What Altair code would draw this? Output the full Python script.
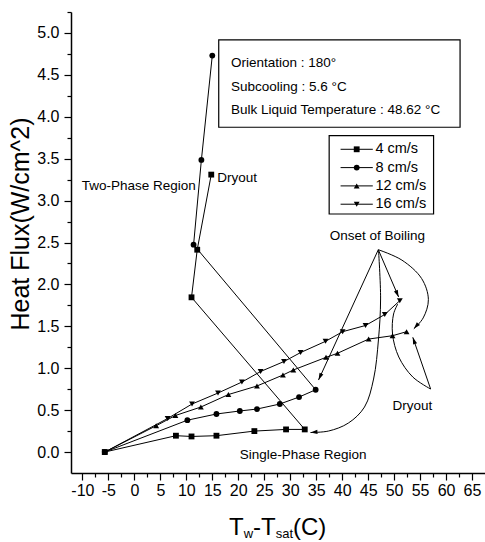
import math
import altair as alt
import pandas as pd

# ---------------- data ----------------
series_names = ["4 cm/s", "8 cm/s", "12 cm/s", "16 cm/s"]
series_shapes = ["square", "circle", "triangle-up", "triangle-down"]

x_4 = [-5.7, 8.0, 11.0, 15.8, 23.1, 29.2, 32.8, 11.0, 12.1, 14.8]
y_4 = [0.0, 0.195, 0.186, 0.195, 0.25, 0.27, 0.27, 1.846, 2.414, 3.31]
x_8 = [-5.7, 10.2, 15.8, 20.3, 23.6, 28.0, 31.7, 34.9, 11.4, 12.9, 15.0]
y_8 = [0.0, 0.38, 0.454, 0.49, 0.513, 0.573, 0.656, 0.743, 2.474, 3.485, 4.73]
x_12 = [-5.7, 4.2, 7.9, 12.8, 18.1, 23.6, 28.6, 30.6, 36.9, 39.1, 45.1, 49.7, 52.4]
y_12 = [0.0, 0.314, 0.436, 0.537, 0.686, 0.788, 0.919, 0.979, 1.13, 1.178, 1.348, 1.388, 1.436]
x_16 = [-5.7, 6.4, 11.1, 16.1, 20.7, 24.3, 28.8, 32.0, 36.8, 40.1, 44.5, 48.2, 51.1]
y_16 = [0.0, 0.40, 0.573, 0.704, 0.835, 0.961, 1.08, 1.187, 1.321, 1.436, 1.51, 1.641, 1.806]

x_major_ticks = list(range(-10, 66, 5))
x_minor_ticks = [v + 2.5 for v in range(-10, 65, 5)]
y_major_ticks = [i * 0.5 for i in range(0, 11)]
y_minor_ticks = [i * 0.5 + 0.25 for i in range(0, 11)]

info_lines = ["Orientation : 180°", "Subcooling : 5.6 °C", "Bulk Liquid Temperature : 48.62 °C"]
info_y = [4.638, 4.352, 4.081]
info_x = 18.6
info_box_x = [16.24, 62.7]
info_box_y = [3.875, 4.917]

label_text = ["Two-Phase Region", "Dryout", "Onset of Boiling", "Dryout", "Single-Phase Region"]
label_x = [0.83, 19.8, 46.8, 53.5, 32.5]
label_y = [3.177, 3.266, 2.581, 0.553, -0.036]

# legend key placement (data coordinates)
legend_box_x = [37.5, 57.6]
legend_box_y = [2.840, 3.775]
legend_line_x = [39.7, 45.9]
legend_mark_x = 42.8
legend_text_x = 46.4
legend_top_y = 3.612
legend_step_y = 0.2184

# annotation arrows (data coordinates)
arrow_paths = {
    "onset_8": ([46.96, 35.45], [2.414, 0.859], True),
    "onset_16": ([46.96, 50.87], [2.414, 1.85], True),
    "onset_12": ([46.96, 51.5, 55.3, 56.6, 55.6, 53.8], [2.414, 2.29, 2.07, 1.82, 1.60, 1.47], True),
    "onset_4": ([47.0, 47.4, 47.0, 46.05, 44.3, 41.2, 37.4, 33.9],
                [2.41, 1.826, 1.348, 0.871, 0.537, 0.346, 0.251, 0.233], True),
    "dry_12": ([57.03, 53.6], [0.752, 1.369], True),
    "dry_16": ([57.03, 53.6, 50.9, 49.7, 49.9, 50.7], [0.752, 0.895, 1.134, 1.408, 1.647, 1.766], False),
}

y_title = "Heat Flux(W/cm^2)"

# ---------------- layout ----------------
FONT = "Liberation Sans"
X_DOMAIN = [-12.2, 67.5]
Y_DOMAIN = [-0.25, 5.25]
PLOT_W = 414
PLOT_H = 461
PAD = {"left": 71, "top": 12, "right": 0, "bottom": 69}
KX = PLOT_W / (X_DOMAIN[1] - X_DOMAIN[0])
KY = PLOT_H / (Y_DOMAIN[1] - Y_DOMAIN[0])

xscale = alt.Scale(domain=X_DOMAIN, nice=False, zero=False)
yscale = alt.Scale(domain=Y_DOMAIN, nice=False, zero=False)
shape_scale = alt.Scale(domain=series_names, range=series_shapes)


def X(field="x"):
    return alt.X(f"{field}:Q", scale=xscale, axis=None)


def Y(field="y"):
    return alt.Y(f"{field}:Q", scale=yscale, axis=None)


rows = []
for name, xs, ys in zip(series_names, [x_4, x_8, x_12, x_16], [y_4, y_8, y_12, y_16]):
    for i, (xv, yv) in enumerate(zip(xs, ys)):
        rows.append({"series": name, "order": i, "x": xv, "y": yv})
df = pd.DataFrame(rows)

ax_x_major = alt.Axis(orient="bottom", values=x_major_ticks, tickSize=7, tickWidth=1.2,
                      labelFontSize=16, labelPadding=2, labelExpr="'' + datum.value",
                      domainWidth=1.5, title=None, grid=False, labelFlush=False,
                      labelOverlap=False)
ax_x_minor = alt.Axis(orient="bottom", values=x_minor_ticks, tickSize=4, tickWidth=1.2,
                      labels=False, domain=False, title=None, grid=False)
ax_y_major = alt.Axis(orient="left", values=y_major_ticks, format=".1f", tickSize=7,
                      tickWidth=1.2, labelFontSize=16, labelPadding=5, domainWidth=1.5,
                      title=None, grid=False, labelOverlap=False, labelFlush=False)
ax_y_minor = alt.Axis(orient="left", values=y_minor_ticks, tickSize=4, tickWidth=1.2,
                      labels=False, domain=False, title=None, grid=False)

lines = alt.Chart(df).mark_line(color="black", strokeWidth=1).encode(
    x=alt.X("x:Q", scale=xscale, axis=ax_x_major),
    y=alt.Y("y:Q", scale=yscale, axis=ax_y_major),
    detail="series:N",
    order="order:Q",
)

points = alt.Chart(df).mark_point(filled=True, color="black", size=34, opacity=1).encode(
    x=alt.X("x:Q", scale=xscale, axis=ax_x_minor),
    y=alt.Y("y:Q", scale=yscale, axis=ax_y_minor),
    shape=alt.Shape("series:N", scale=shape_scale, legend=None),
)

# ---- legend key built from the series names ----
leg_df = pd.DataFrame({
    "series": series_names,
    "y": [legend_top_y - i * legend_step_y for i in range(len(series_names))],
    "x0": [legend_line_x[0]] * len(series_names),
    "x1": [legend_line_x[1]] * len(series_names),
    "xm": [legend_mark_x] * len(series_names),
    "xt": [legend_text_x] * len(series_names),
})
leg_box_df = pd.DataFrame({"x": [legend_box_x[0]], "x2": [legend_box_x[1]],
                           "y": [legend_box_y[0]], "y2": [legend_box_y[1]]})
leg_box = alt.Chart(leg_box_df).mark_rect(fill="white", stroke="black", strokeWidth=1.2).encode(
    x=X(), x2="x2:Q", y=Y(), y2="y2:Q")
leg_lines = alt.Chart(leg_df).mark_rule(color="black", strokeWidth=1).encode(
    x=X("x0"), x2="x1:Q", y=Y())
leg_marks = alt.Chart(leg_df).mark_point(filled=True, color="black", size=34, opacity=1).encode(
    x=X("xm"), y=Y(), shape=alt.Shape("series:N", scale=shape_scale, legend=None))
leg_text = alt.Chart(leg_df).mark_text(align="left", baseline="middle", font=FONT,
                                       fontSize=14.5, color="black").encode(
    x=X("xt"), y=Y(), text="series:N")

# ---- info box ----
box_df = pd.DataFrame({"x": [info_box_x[0]], "x2": [info_box_x[1]],
                       "y": [info_box_y[0]], "y2": [info_box_y[1]]})
box = alt.Chart(box_df).mark_rect(fill="white", stroke="black", strokeWidth=1.2).encode(
    x=X(), x2="x2:Q", y=Y(), y2="y2:Q")

info_df = pd.DataFrame({"t": info_lines, "x": [info_x] * len(info_lines), "y": info_y})
info = alt.Chart(info_df).mark_text(align="left", baseline="middle", font=FONT,
                                    fontSize=13.5, color="black").encode(
    x=X(), y=Y(), text="t:N")

lab_df = pd.DataFrame({"t": label_text, "x": label_x, "y": label_y})
labels = alt.Chart(lab_df).mark_text(align="center", baseline="middle", font=FONT,
                                     fontSize=13.5, color="black").encode(
    x=X(), y=Y(), text="t:N")

# ---- arrows ----
arow = []
heads = []
for name, (xs, ys, head) in arrow_paths.items():
    for i, (xv, yv) in enumerate(zip(xs, ys)):
        arow.append({"arrow": name, "order": i, "x": xv, "y": yv})
    if head:
        dx = (xs[-1] - xs[-2]) * KX
        dy_screen = -(ys[-1] - ys[-2]) * KY
        ang = math.degrees(math.atan2(dx, -dy_screen)) % 360
        heads.append({"x": xs[-1], "y": ys[-1], "angle": ang})
arrow_df = pd.DataFrame(arow)
head_df = pd.DataFrame(heads)

arrows = alt.Chart(arrow_df).mark_line(color="black", strokeWidth=1, interpolate="catmull-rom").encode(
    x=X(), y=Y(), detail="arrow:N", order="order:Q")

arrowheads = alt.Chart(head_df).mark_point(
    shape="M0,0L0.6,2L-0.6,2Z", filled=True, color="black", size=49, opacity=1
).encode(x=X(), y=Y(), angle=alt.Angle("angle:Q", scale=None))

# ---- axis titles ----
one = pd.DataFrame({"k": [0]})
ytitle = alt.Chart(one).mark_text(angle=270, align="center", baseline="middle", font=FONT,
                                  fontSize=25, color="black").encode(
    x=alt.value(-50), y=alt.value(212), text=alt.value(y_title))

# x title with subscripts: T_w - T_sat (C)
xt_parts = [("T", 24, 158, 523), ("w", 13, 172.7, 526), ("-", 24, 182, 523),
            ("T", 24, 190, 523), ("sat", 13, 204.7, 526), ("(C)", 24, 222, 523)]
xt_layers = []
for t, fs, px, py in xt_parts:
    xt_layers.append(alt.Chart(one).mark_text(align="left", baseline="alphabetic", font=FONT,
                                              fontSize=fs, color="black").encode(
        x=alt.value(px), y=alt.value(py), text=alt.value(t)))

chart = alt.layer(
    lines, points, leg_box, leg_lines, leg_marks, leg_text, box, info, labels,
    arrows, arrowheads, ytitle, *xt_layers
).resolve_axis(x="independent", y="independent").properties(
    width=PLOT_W, height=PLOT_H, padding=PAD, autosize=alt.AutoSizeParams(type="none"),
    background="white",
).configure_view(stroke=None).configure_axis(
    labelFont=FONT, labelColor="black", tickColor="black", domainColor="black",
)

chart.save("out.html", embed_options={"renderer": "svg", "actions": False})
